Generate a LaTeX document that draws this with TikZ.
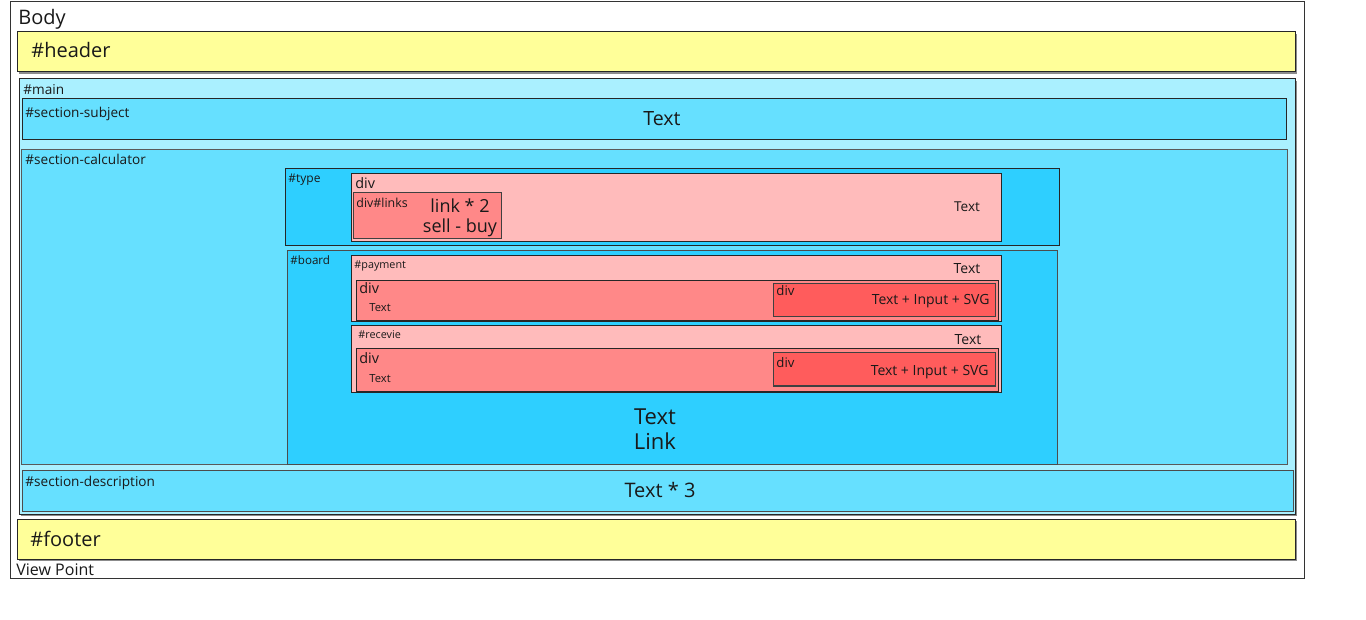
\documentclass[tikz,border=0pt]{standalone}
\usepackage{fontspec}
\setmainfont{Open Sans}
\usepackage{xcolor}
\usetikzlibrary{positioning, fit, shadows}

\definecolor{bandyellow}{HTML}{FFFF99}
\definecolor{mainblue}{HTML}{AAF0FF}
\definecolor{sectblue}{HTML}{66E0FF}
\definecolor{deepblue}{HTML}{2ECFFF}
\definecolor{palered}{HTML}{FFBBBB}
\definecolor{midred}{HTML}{FF8888}
\definecolor{hotred}{HTML}{FF5C5C}

\tikzset{
    area/.style={draw=black!85, line width=0.5pt, inner sep=0pt},
    shade/.style={drop shadow={shadow xshift=0.8pt, shadow yshift=-0.8pt, fill=black!45, opacity=1}},
    txt/.style={inner sep=0pt, anchor=base west, text=black!90},
    txtc/.style={inner sep=0pt, anchor=base, text=black!90},
    fsize/.style={font=\fontsize{#1}{#1}\selectfont}
}

\begin{document}
\begin{tikzpicture}[x=0.5pt, y=-0.5pt]
    \useasboundingbox (0,0) rectangle (1366,620);

    % page frame
    \node[area, draw=black!80, fill=white, fit={(10,2) (1304,578)}] (body) {};
    \node[txt, fsize=10] (bodylbl) at (18,25) {Body};
    \node[txt, fsize=8] (viewlbl) at (16,575) {View Point};

    % header / footer
    \node[area, shade, fill=bandyellow, fit={(17,32) (1295,72)}] (header) {};
    \node[txt, fsize=10] (headerlbl) at (31,58) {\#header};
    \node[area, shade, fill=bandyellow, fit={(17,519) (1295,559)}] (footer) {};
    \node[txt, fsize=10] (footerlbl) at (30,546) {\#footer};

    % main
    \node[area, shade, fill=mainblue, fit={(19,79) (1295,514)}] (main) {};
    \node[txt, fsize=6.8] (mainlbl) at (23,95) {\#main};

    \node[area, fill=sectblue, fit={(22,99) (1286,140)}] (subject) {};
    \node[txt, fsize=6.8] (subjectlbl) at (25,118) {\#section-subject};
    \node[txtc, fsize=9.8] (subjecttxt) at (662,126) {Text};

    \node[area, draw=black!65, fill=sectblue, fit={(21,150) (1287,464)}] (calc) {};
    \node[txt, fsize=6.8] (calclbl) at (25,165) {\#section-calculator};

    \node[area, draw=black!70, fill=sectblue, fit={(22,470) (1293,511)}] (desc) {};
    \node[txt, fsize=6.8] (desclbl) at (25,486) {\#section-description};
    \node[txtc, fsize=10] (desctxt) at (660,497) {Text * 3};

    % type
    \node[area, fill=deepblue, fit={(285,169) (1059,246)}] (type) {};
    \node[txt, fsize=6] (typelbl) at (288,183) {\#type};
    \node[area, fill=palered, fit={(351,174) (1001,242)}] (typediv) {};
    \node[txt, fsize=7.2] (typedivlbl) at (355,189) {div};
    \node[txtc, fsize=6.8] (typetxt) at (967,212) {Text};
    \node[area, draw=black!75, fill=midred, fit={(353,193) (501,239)}] (links) {};
    \node[txt, fsize=6.2] (linkslbl) at (356,208) {div\#links};
    \node[txtc, fsize=9] (linkstxt) at (460,213) {link * 2};
    \node[txtc, fsize=9] (selltxt) at (460,233) {sell - buy};

    % board
    \node[area, draw=black!70, fill=deepblue, fit={(287,251) (1057,464)}] (board) {};
    \node[txt, fsize=5.8] (boardlbl) at (290,265) {\#board};
    \node[txtc, fsize=11] (boardtxt) at (655,424) {Text};
    \node[txtc, fsize=11] (boardlink) at (655,449) {Link};

    % payment
    \node[area, fill=palered, fit={(351,256) (1001,322)}] (payment) {};
    \node[txt, fsize=5.4] (paymentlbl) at (354,269) {\#payment};
    \node[txtc, fsize=7] (paymenttxt) at (967,274) {Text};
    \node[area, fill=midred, fit={(356,281) (998,321)}] (paydiv) {};
    \node[txt, fsize=7.2] (paydivlbl) at (359,294) {div};
    \node[txt, fsize=5.6] (paydivtxt) at (369,312) {Text};
    \node[area, draw=black!75, fill=hotred, fit={(773,284) (995,317)}] (payinput) {};
    \node[txt, fsize=6.6] (payinputlbl) at (776,296) {div};
    \node[inner sep=0pt, anchor=base east, fsize=7, text=black!90] (payinputtxt) at (990,305) {Text + Input + SVG};

    % recevie
    \node[area, fill=palered, fit={(351,326) (1001,392)}] (recevie) {};
    \node[txt, fsize=5.4] (recevielbl) at (358,339) {\#recevie};
    \node[txtc, fsize=7] (recevietxt) at (968,344) {Text};
    \node[area, fill=midred, fit={(356,349) (998,391)}] (recdiv) {};
    \node[txt, fsize=7.2] (recdivlbl) at (359,364) {div};
    \node[txt, fsize=5.6] (recdivtxt) at (369,382) {Text};
    \node[area, draw=black!75, fill=hotred, fit={(773,353) (995,386)}] (recinput) {};
    \node[txt, fsize=6.6] (recinputlbl) at (776,367) {div};
    \node[inner sep=0pt, anchor=base east, fsize=7, text=black!90] (recinputtxt) at (989,376) {Text + Input + SVG};
\end{tikzpicture}
\end{document}
